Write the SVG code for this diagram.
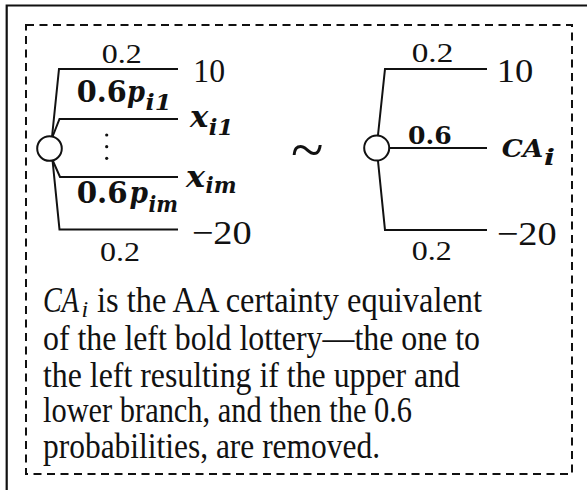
<svg xmlns="http://www.w3.org/2000/svg" width="587" height="490" viewBox="0 0 587 490">
<style>
.frame{fill:none;stroke:#111;stroke-width:2.2}
.dash{fill:none;stroke:#111;stroke-width:2;stroke-dasharray:8 5.5}
.br{fill:none;stroke:#111;stroke-width:2}
.node{fill:#fff;stroke:#111;stroke-width:2}
text{font-family:"Liberation Serif","Times New Roman",serif;fill:#111}
.pr{font-size:27px}
.num{font-size:34px}
.bm{font-family:"DejaVu Serif",serif;font-size:29px;font-weight:bold}
.bi{font-family:"DejaVu Serif",serif;font-size:29px;font-weight:bold;font-style:italic}
.sub{font-family:"DejaVu Serif",serif;font-size:22px;font-weight:bold;font-style:italic}
.body{font-size:35px}
</style>
<rect width="587" height="490" fill="#fff"/>
<path class="frame" d="M6.7,490 V5.5 H587"/>
<rect class="dash" x="26" y="25" width="546" height="449"/>

<g id="connectors">
  <path class="br" d="M52,137 L59,69 H178"/>
  <path class="br" d="M52,138 L59.5,119 H178"/>
  <path class="br" d="M52.5,160 L60,177 H178"/>
  <path class="br" d="M52.5,160 L59.5,229.5 H178"/>
  <path class="br" d="M378,135 L385,69 H487"/>
  <path class="br" d="M389,148 H487"/>
  <path class="br" d="M378,161 L385,230 H487"/>
</g>

<g id="left-chance-node"><circle class="node" cx="49.5" cy="148.5" r="12.3"/></g>
<g id="right-chance-node"><circle class="node" cx="376.7" cy="148" r="12.5"/></g>

<g id="left-labels">
  <text class="pr" x="101.7" y="63" textLength="40" lengthAdjust="spacingAndGlyphs">0.2</text>
  <text class="bm" x="76.7" y="101.7" textLength="50" lengthAdjust="spacingAndGlyphs">0.6</text>
  <text class="bi" x="127" y="101.7" textLength="18" lengthAdjust="spacingAndGlyphs">p</text>
  <text class="sub" x="145.5" y="110" textLength="26" lengthAdjust="spacingAndGlyphs">i1</text>
  <g id="vdots" fill="#111"><circle cx="106.7" cy="135" r="1.6"/><circle cx="106.7" cy="146.7" r="1.6"/><circle cx="106.7" cy="158.3" r="1.6"/></g>
  <text class="bm" x="76.7" y="203.3" textLength="51" lengthAdjust="spacingAndGlyphs">0.6</text>
  <text class="bi" x="129.5" y="203.3" textLength="18.5" lengthAdjust="spacingAndGlyphs">p</text>
  <text class="sub" x="148.5" y="211.7" textLength="29.5" lengthAdjust="spacingAndGlyphs">im</text>
  <text class="pr" x="100" y="261" textLength="40" lengthAdjust="spacingAndGlyphs">0.2</text>
</g>

<g id="outcome-10-left"><text class="num" x="193.3" y="81.7" textLength="31.7" lengthAdjust="spacingAndGlyphs">10</text></g>
<g id="outcome-xi1">
  <text class="bi" x="190" y="126.7" textLength="18.3" lengthAdjust="spacingAndGlyphs">x</text>
  <text class="sub" x="208.8" y="135" textLength="24.5" lengthAdjust="spacingAndGlyphs">i1</text>
</g>
<g id="outcome-xim">
  <text class="bi" x="186" y="186.7" textLength="19" lengthAdjust="spacingAndGlyphs">x</text>
  <text class="sub" x="205.5" y="193.3" textLength="31" lengthAdjust="spacingAndGlyphs">im</text>
</g>
<g id="outcome-m20-left"><text class="num" x="191.7" y="243.5" textLength="60" lengthAdjust="spacingAndGlyphs">−20</text></g>

<text id="tilde" x="291" y="170" style="font-size:60px">~</text>

<g id="right-labels">
  <text class="pr" x="411.7" y="62.3" textLength="41.6" lengthAdjust="spacingAndGlyphs">0.2</text>
  <text class="bm" x="408" y="144" style="font-size:24px" textLength="43.7" lengthAdjust="spacingAndGlyphs">0.6</text>
  <text class="pr" x="411.7" y="260" textLength="40" lengthAdjust="spacingAndGlyphs">0.2</text>
</g>
<g id="outcome-10-right"><text class="num" x="496.7" y="81.7" textLength="36.6" lengthAdjust="spacingAndGlyphs">10</text></g>
<g id="outcome-CAi">
  <text class="bi" x="501.7" y="156.7" style="font-size:25px" textLength="41.6" lengthAdjust="spacingAndGlyphs">CA</text>
  <text class="sub" x="544" y="165" textLength="11" lengthAdjust="spacingAndGlyphs">i</text>
</g>
<g id="outcome-m20-right"><text class="num" x="496.7" y="245" textLength="60" lengthAdjust="spacingAndGlyphs">−20</text></g>

<g id="caption" class="body">
  <text x="43" y="311.5" font-style="italic" textLength="36" lengthAdjust="spacingAndGlyphs">CA</text>
  <text x="81.5" y="317" font-style="italic" font-size="24">i</text>
  <text x="97" y="311.5" textLength="385" lengthAdjust="spacingAndGlyphs">is the AA certainty equivalent</text>
  <text x="43" y="350" textLength="437" lengthAdjust="spacingAndGlyphs">of the left bold lottery—the one to</text>
  <text x="43" y="386.5" textLength="417" lengthAdjust="spacingAndGlyphs">the left resulting if the upper and</text>
  <text x="43" y="421.7" textLength="369" lengthAdjust="spacingAndGlyphs">lower branch, and then the 0.6</text>
  <text x="43" y="458" textLength="337" lengthAdjust="spacingAndGlyphs">probabilities, are removed.</text>
</g>
</svg>
